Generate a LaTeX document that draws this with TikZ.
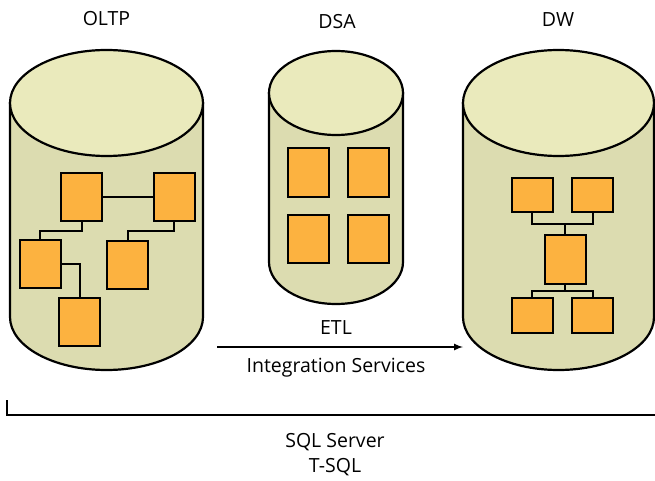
\documentclass[tikz,border=0pt]{standalone}
\usepackage{fontspec}
\setmainfont{Open Sans}
\usetikzlibrary{positioning}

\definecolor{topcol}{RGB}{234,234,188}
\definecolor{bodycol}{RGB}{220,220,176}
\definecolor{tblcol}{RGB}{252,178,64}

% cylinder: centre x, x radius, top y, bottom y, y radius
\newcommand{\dbcyl}[5]{%
\filldraw[fill=bodycol,line width=2.2pt] ({#1-#2},#3) -- ({#1-#2},#4)
  arc[start angle=180,end angle=360,x radius=#2,y radius=#5] -- ({#1+#2},#3) -- cycle;
\filldraw[fill=topcol,line width=2.2pt] (#1,#3) ellipse[x radius=#2,y radius=#5];
}

\begin{document}
\begin{tikzpicture}[x=1pt,y=1pt,
  tbl/.style={rectangle,draw,fill=tblcol,line width=2pt,minimum width=41pt,minimum height=48pt,inner sep=0pt},
  lnk/.style={line width=2pt},
  lbl/.style={font=\fontsize{19.5}{25}\selectfont,align=center}]
\useasboundingbox (0,0) rectangle (655,480);
\dbcyl{106.5}{96.5}{377}{163}{53}
\dbcyl{336}{67}{387}{218}{42}
\dbcyl{558.5}{95.5}{377}{163}{53}
\path (106.5,461) node[lbl] (oltp) {OLTP};
\path (337,458) node[lbl] (dsa) {DSA};
\path (558,460) node[lbl] (dw) {DW};
% OLTP tables
\path (81.5,283.5) node[tbl] (o1) {};
\path (174,283.5) node[tbl] (o2) {};
\path (40,216) node[tbl] (o3) {};
\path (127.5,215.5) node[tbl] (o4) {};
\path (79.5,158) node[tbl] (o5) {};
\draw[lnk] (o1) -- (o2);
\draw[lnk] (o1.south) -- ++(0,-9) -| (o3.north);
\draw[lnk] (o2.south) -- ++(0,-9) -| (o4.north);
\draw[lnk] (o3.east) -| (o5.north);
% DSA tables
\path (308,307.5) node[tbl] (s1) {};
\path (368,307.5) node[tbl] (s2) {};
\path (308,241.5) node[tbl] (s3) {};
\path (368,241.5) node[tbl] (s4) {};
% DW tables
\path (532,285.5) node[tbl,minimum height=34pt] (w1) {};
\path (592.5,285.5) node[tbl,minimum height=34pt] (w2) {};
\path (565,221) node[tbl,minimum height=49pt] (w3) {};
\path (532,165) node[tbl,minimum height=35pt] (w4) {};
\path (592.5,165) node[tbl,minimum height=35pt] (w5) {};
\draw[lnk] (w1.south) -- ++(0,-11) -| (w2.south);
\draw[lnk] (w3.north) -- ++(0,11);
\draw[lnk] (w4.north) -- ++(0,6) -| (w5.north);
\draw[lnk] (w3.south) -- ++(0,-7);
% ETL
\coordinate (etla) at (217,133);
\coordinate (etlb) at (463,133);
\draw[-latex,line width=2pt] (etla) -- (etlb);
\path (336,152) node[lbl] (etl) {ETL};
\path (336,112) node[lbl] (is) {Integration Services};
% SQL Server
\coordinate (br1) at (7,80);
\coordinate (br2) at (7,65);
\coordinate (br3) at (656,65);
\draw[line width=2.2pt] (br1) -- (br2) -- (br3);
\path (335,25) node[lbl] (sql) {SQL Server\\T-SQL};
\end{tikzpicture}
\end{document}
